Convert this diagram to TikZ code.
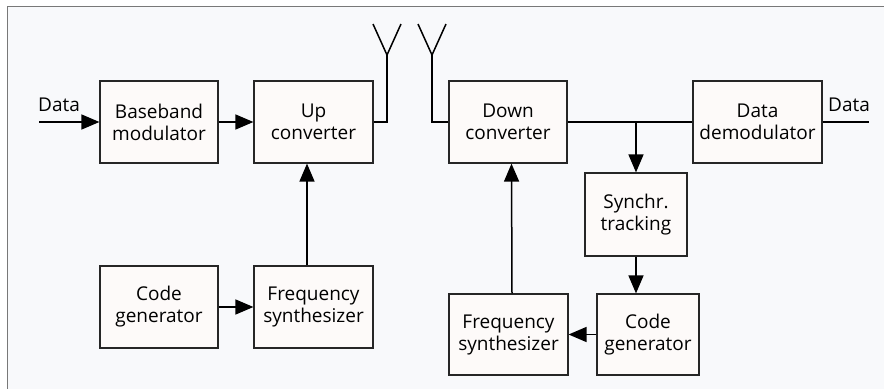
\documentclass[tikz,border=0pt]{standalone}
\usepackage{fontspec}
\setmainfont{Open Sans}
\usepackage{tikz}
\usetikzlibrary{arrows.meta,calc}
\definecolor{panelbg}{RGB}{248,249,251}
\definecolor{boxbg}{RGB}{253,250,249}
\definecolor{framegray}{RGB}{120,120,120}
\tikzset{
  blk/.style={draw=black!85, fill=boxbg, line width=1.2pt, align=center,
    inner sep=0pt, minimum height=82pt,
    font=\fontsize{19}{22}\selectfont},
  wire/.style={line width=1.5pt},
  arr/.style={wire, -{Triangle[length=18pt,width=15pt]}},
  lbl/.style={font=\fontsize{19}{22}\selectfont, inner sep=0pt}
}
\begin{document}
\begin{tikzpicture}[x=1pt,y=-1pt]
\useasboundingbox (0,0) rectangle (884,389);
\fill[panelbg] (7,6) rectangle (884,389);
\draw[framegray, line width=1.6pt] (884,6.5) -- (7.5,6.5) -- (7.5,389);

\node[blk, minimum width=118pt] (bbmod) at (159,122) {Baseband\\modulator};
\node[blk, minimum width=119pt] (upconv) at (313.5,122) {Up\\converter};
\node[blk, minimum width=118pt] (codegenA) at (159,307) {Code\\generator};
\node[blk, minimum width=119pt] (freqA) at (313.5,307) {Frequency\\synthesizer};
\node[blk, minimum width=118pt] (downconv) at (508,122) {Down\\converter};
\node[blk, minimum width=129pt] (demod) at (757.5,122) {Data\\demodulator};
\node[blk, minimum width=102pt, minimum height=83pt] (sync) at (636,214.5) {Synchr.\\tracking};
\node[blk, minimum width=102pt, minimum height=81pt] (codegenB) at (648,334.5) {Code\\generator};
\node[blk, minimum width=119pt, minimum height=81pt] (freqB) at (508.5,334.5) {Frequency\\synthesizer};

\coordinate (datain) at (39,122);
\coordinate (dataout) at (869,122);
\node[lbl] (inlbl) at (59,105) {Data};
\node[lbl] (outlbl) at (849,105) {Data};

\coordinate (antA) at (387,55);
\coordinate (antB) at (432,55);
\foreach \a in {antA,antB}
\draw[wire] ($(\a)+(-14,-31)$) -- (\a) -- ($(\a)+(14,-31)$);

\draw[arr] (datain) -- (bbmod);
\draw[arr] (bbmod) -- (upconv);
\draw[wire] (upconv.east) -| (antA);
\draw[wire] (downconv.west) -| (antB);
\draw[arr] (codegenA) -- (freqA);
\draw[arr] ([xshift=-6.5pt]freqA.north) -- ([xshift=-6.5pt]upconv.south);

\draw[wire] (downconv) -- (demod);
\draw[wire] (demod) -- (dataout);
\coordinate (tap) at (sync.north |- downconv.east);
\draw[arr] (tap) -- (sync.north);
\draw[arr] (sync.south) -- (sync.south |- codegenB.north);
\draw[arr] (codegenB) -- (freqB);
\draw[arr] ([xshift=3.5pt]freqB.north) -- ([xshift=3.5pt]downconv.south);
\end{tikzpicture}
\end{document}
